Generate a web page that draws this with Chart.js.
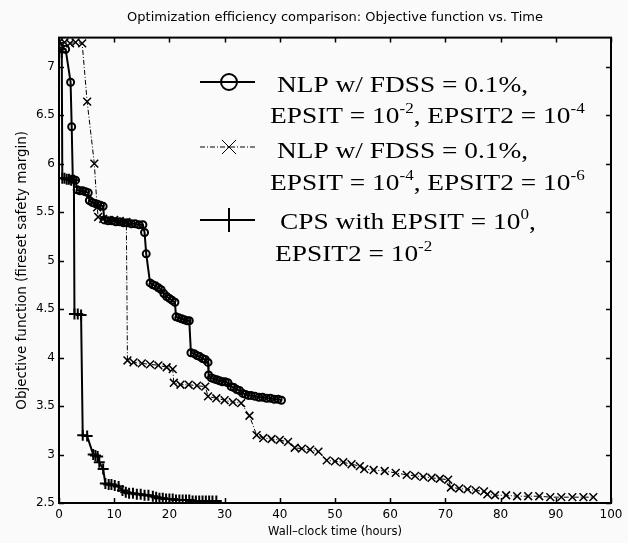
<!DOCTYPE html>
<html>
<head>
<meta charset="utf-8">
<script src="https://cdn.jsdelivr.net/npm/chart.js@4.4.1/dist/chart.umd.min.js"></script>
<style>
  html, body { margin: 0; padding: 0; background: #fafafa; }
  canvas { display: block; }
</style>
</head>
<body>
<canvas id="chart" width="628" height="543"></canvas>
<script>
"use strict";

// NLP w/ FDSS = 0.1%, EPSIT = 1e-2, EPSIT2 = 1e-4  (circles)
const nlpCoarseTime = [0.2, 1.2, 2.1, 2.3, 2.5, 3.0, 3.3, 3.8, 4.3, 4.8,
  5.3, 5.5, 6.0, 6.5, 7.0, 7.5, 8.0, 8.2, 8.9, 9.6,
  10.3, 11.0, 11.7, 12.4, 13.1, 13.8, 14.5, 15.2, 15.5, 15.8,
  16.5, 17.0, 17.5, 18.0, 18.5, 19.0, 19.5, 20.0, 20.5, 21.0,
  21.2, 21.7, 22.2, 22.7, 23.2, 23.6, 23.9, 24.5, 25.0, 25.5,
  26.0, 26.5, 27.0, 27.1, 27.6, 28.1, 28.6, 29.1, 29.6, 30.1,
  30.6, 31.2, 31.7, 32.2, 32.7, 33.3, 33.8, 34.3, 34.8, 35.5,
  36.2, 36.9, 37.6, 38.3, 39.0, 39.7, 40.3];
const nlpCoarseObj = [7.2, 7.18, 6.84, 6.38, 5.84, 5.83, 5.73, 5.72, 5.72, 5.71,
  5.70, 5.62, 5.6, 5.59, 5.58, 5.57, 5.56, 5.42, 5.41, 5.41,
  5.4, 5.4, 5.39, 5.39, 5.38, 5.38, 5.37, 5.37, 5.29, 5.07,
  4.77, 4.75, 4.74, 4.72, 4.7, 4.66, 4.63, 4.61, 4.59, 4.57,
  4.42, 4.41, 4.4, 4.39, 4.38, 4.38, 4.05, 4.04, 4.02, 4.01,
  3.99, 3.98, 3.95, 3.82, 3.79, 3.78, 3.77, 3.76, 3.75, 3.75,
  3.74, 3.7, 3.69, 3.67, 3.66, 3.63, 3.62, 3.61, 3.61, 3.6,
  3.59, 3.59, 3.58, 3.58, 3.57, 3.57, 3.56];

// NLP w/ FDSS = 0.1%, EPSIT = 1e-4, EPSIT2 = 1e-6  (x marks)
const nlpFineTime = [0, 1, 2, 3, 4.2, 5.1, 6.4, 6.9, 7.1, 8, 9, 10, 11, 12.2, 12.4,
  13.5, 15, 16.5, 18, 19.5, 20.6, 20.8, 22, 23.5, 25, 26.5, 27, 28.5, 30, 31.5,
  33, 34.5, 35.8, 37, 38.5, 40, 41.5, 42.7, 44, 45.5, 47, 48.5, 50, 51.5, 53,
  54.5, 55.3, 57, 59, 61, 63, 64.5, 66, 67.5, 69, 70.5, 71, 72.5, 74, 75.5,
  77, 77.6, 79, 81, 83, 85, 87, 89, 91, 93, 95, 96.8];
const nlpFineObj = [7.25, 7.25, 7.24, 7.25, 7.24, 6.64, 6.0, 5.55, 5.45, 5.43, 5.42, 5.42, 5.41, 5.4, 3.97,
  3.95, 3.94, 3.93, 3.92, 3.9, 3.88, 3.74, 3.72, 3.72, 3.71, 3.7, 3.6, 3.58, 3.56, 3.54,
  3.53, 3.4, 3.2, 3.17, 3.16, 3.15, 3.13, 3.07, 3.06, 3.05, 3.03, 2.94, 2.93, 2.92, 2.9,
  2.88, 2.85, 2.84, 2.83, 2.81, 2.79, 2.78, 2.77, 2.76, 2.75, 2.74, 2.66, 2.65, 2.64, 2.63,
  2.62, 2.59, 2.58, 2.58, 2.57, 2.57, 2.57, 2.56, 2.56, 2.56, 2.56, 2.56];

// CPS with EPSIT = 1e0, EPSIT2 = 1e-2  (plus marks)
const cpsTime = [0, 0.5, 0.6, 1.0, 1.4, 1.8, 2.2, 2.7, 2.8, 3.4,
  4.0, 4.3, 5.1, 6.2, 6.6, 7.0, 7.3, 8.0, 8.4, 9.0,
  9.5, 10.1, 10.8, 11.5, 12.1, 12.7, 13.4, 14.1, 14.8, 15.5,
  16.2, 17.0, 17.6, 18.2, 18.8, 19.4, 20.0, 20.6, 21.2, 21.8,
  22.4, 23.0, 23.6, 24.2, 24.8, 25.4, 26.0, 26.6, 27.2, 27.8, 28.5];
const cpsObj = [7.18, 7.15, 5.85, 5.85, 5.84, 5.84, 5.83, 5.83, 4.45, 4.45,
  4.44, 3.2, 3.19, 3.0, 2.99, 2.98, 2.92, 2.85, 2.7, 2.69,
  2.69, 2.68, 2.67, 2.63, 2.61, 2.6, 2.6, 2.59, 2.59, 2.58,
  2.58, 2.57, 2.56, 2.55, 2.55, 2.54, 2.54, 2.54, 2.53, 2.53,
  2.53, 2.53, 2.53, 2.52, 2.52, 2.52, 2.52, 2.52, 2.52, 2.52, 2.52];

const xTickValues = [0, 10, 20, 30, 40, 50, 60, 70, 80, 90, 100];
const yTickValues = [2.5, 3, 3.5, 4, 4.5, 5, 5.5, 6, 6.5, 7];

const TITLE = "Optimization efficiency comparison: Objective function vs. Time";
const X_LABEL = "Wall\u2013clock time (hours)";
const Y_LABEL = "Objective function (fireset safety margin)";

// legend text, [text, isSuperscript]
const LEGEND = [
  { dataset: 0, y: 82, radius: 8,
    lines: [
      { x: 277, y: 92, segs: [["NLP w/ FDSS = 0.1%,", 0]] },
      { x: 270, y: 123, segs: [["EPSIT = 10", 0], ["-2", 1], [", EPSIT2 = 10", 0], ["-4", 1]] },
    ] },
  { dataset: 1, y: 147, radius: 10,
    lines: [
      { x: 277, y: 158, segs: [["NLP w/ FDSS = 0.1%,", 0]] },
      { x: 270, y: 190, segs: [["EPSIT = 10", 0], ["-4", 1], [", EPSIT2 = 10", 0], ["-6", 1]] },
    ] },
  { dataset: 2, y: 220, radius: 12,
    lines: [
      { x: 280, y: 229, segs: [["CPS with EPSIT = 10", 0], ["0", 1], [",", 0]] },
      { x: 275, y: 261, segs: [["EPSIT2 = 10", 0], ["-2", 1]] },
    ] },
];

const zip = (xs, ys) => xs.map((x, i) => ({ x, y: ys[i] }));

function series(label, xs, ys, style) {
  return Object.assign({
    label, data: zip(xs, ys),
    borderColor: "#000", backgroundColor: "rgba(0,0,0,0)",
    pointBorderColor: "#000", pointBackgroundColor: "rgba(0,0,0,0)",
    tension: 0, fill: false,
  }, style);
}

const framePlugin = {
  id: "frame",
  afterDraw(chart) {
    const { ctx, chartArea: a, scales } = chart;
    ctx.save();
    ctx.strokeStyle = "#000";
    ctx.lineWidth = 1.5;
    const len = 5;
    ctx.beginPath();
    xTickValues.forEach(v => {
      const px = Math.round(scales.x.getPixelForValue(v)) + 0.5;
      ctx.moveTo(px, a.bottom); ctx.lineTo(px, a.bottom - len);
      ctx.moveTo(px, a.top); ctx.lineTo(px, a.top + len);
    });
    yTickValues.forEach(v => {
      const py = Math.round(scales.y.getPixelForValue(v)) + 0.5;
      ctx.moveTo(a.left, py); ctx.lineTo(a.left + len, py);
      ctx.moveTo(a.right, py); ctx.lineTo(a.right - len, py);
    });
    ctx.stroke();
    ctx.lineWidth = 2;
    ctx.strokeRect(a.left, a.top, a.right - a.left, a.bottom - a.top);
    ctx.restore();
  },
};

const legendPlugin = {
  id: "paperLegend",
  afterDraw(chart) {
    const ctx = chart.ctx;
    const stretch = 1.14; // the scanned figure is wider than the plain font
    ctx.save();
    LEGEND.forEach(item => {
      const ds = chart.data.datasets[item.dataset];
      const x0 = 200, x1 = 255, xm = 229;
      ctx.strokeStyle = "#000";
      ctx.fillStyle = "rgba(0,0,0,0)";
      ctx.lineWidth = ds.borderWidth;
      ctx.setLineDash(ds.borderDash || []);
      ctx.beginPath();
      ctx.moveTo(x0, item.y);
      ctx.lineTo(x1, item.y);
      ctx.stroke();
      ctx.setLineDash([]);
      Chart.helpers.drawPoint(ctx, {
        pointStyle: ds.pointStyle, radius: item.radius, borderWidth: 2, rotation: 0,
      }, xm, item.y);

      ctx.fillStyle = "#000";
      ctx.textBaseline = "alphabetic";
      ctx.textAlign = "left";
      item.lines.forEach(line => {
        ctx.save();
        ctx.translate(line.x, line.y);
        ctx.scale(stretch, 1);
        let x = 0;
        line.segs.forEach(([text, sup]) => {
          ctx.font = sup ? "15px 'Liberation Serif'" : "24px 'Liberation Serif'";
          ctx.fillText(text, x, sup ? -10 : 0);
          x += ctx.measureText(text).width;
        });
        ctx.restore();
      });
    });
    ctx.restore();
  },
};

const FAMILY = "'DejaVu Sans', Verdana, sans-serif";
const tickFont = { family: FAMILY, size: 12 };

new Chart(document.getElementById("chart").getContext("2d"), {
  type: "line",
  data: {
    datasets: [
      series("NLP w/ FDSS = 0.1%, EPSIT = 10^-2, EPSIT2 = 10^-4", nlpCoarseTime, nlpCoarseObj, {
        borderWidth: 2, pointStyle: "circle", pointRadius: 3.5, pointBorderWidth: 2,
      }),
      series("NLP w/ FDSS = 0.1%, EPSIT = 10^-4, EPSIT2 = 10^-6", nlpFineTime, nlpFineObj, {
        borderWidth: 1, borderDash: [5, 2, 1, 2], pointStyle: "crossRot", pointRadius: 5.5, pointBorderWidth: 1.5,
      }),
      series("CPS with EPSIT = 10^0, EPSIT2 = 10^-2", cpsTime, cpsObj, {
        borderWidth: 2, pointStyle: "cross", pointRadius: 5.5, pointBorderWidth: 2,
      }),
    ],
  },
  options: {
    responsive: false,
    animation: false,
    layout: { padding: { top: 2, right: 17, left: 0, bottom: 0 } },
    plugins: {
      legend: { display: false },
      tooltip: { enabled: false },
      title: {
        display: true, text: TITLE, fullSize: false, color: "#000",
        font: { family: FAMILY, size: 13, weight: "normal" },
        padding: { top: 8, bottom: 12 },
      },
    },
    scales: {
      x: {
        type: "linear", min: 0, max: 100,
        afterBuildTicks: s => { s.ticks = xTickValues.map(v => ({ value: v })); },
        afterFit: s => { s.height = 40; },
        grid: { display: false, drawTicks: false }, border: { display: false },
        ticks: { color: "#000", font: tickFont, padding: 5, maxRotation: 0, callback: v => String(v) },
        title: { display: true, text: X_LABEL, color: "#000", font: { family: FAMILY, size: 11.5 }, padding: { bottom: 4 } },
      },
      y: {
        type: "linear", min: 2.5, max: 7.3,
        afterBuildTicks: s => { s.ticks = yTickValues.map(v => ({ value: v })); },
        afterFit: s => { s.width = 59; },
        grid: { display: false, drawTicks: false }, border: { display: false },
        ticks: { color: "#000", font: tickFont, padding: 4, callback: v => String(v) },
        title: { display: true, text: Y_LABEL, color: "#000", font: { family: FAMILY, size: 13.5 }, padding: { top: 14 } },
      },
    },
  },
  plugins: [framePlugin, legendPlugin],
});
</script>
</body>
</html>
